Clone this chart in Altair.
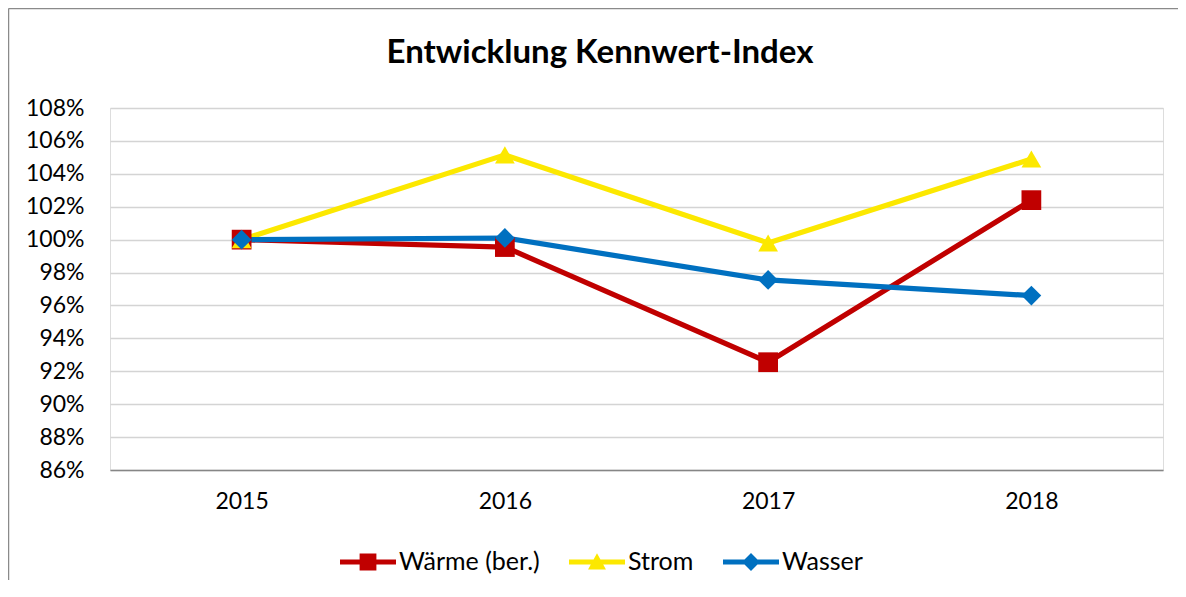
import altair as alt
import pandas as pd

years = ["2015", "2016", "2017", "2018"]
series_names = ["Wärme (ber.)", "Strom", "Wasser"]
waerme = [1.000, 0.9955, 0.9255, 1.024]
strom = [1.000, 1.0515, 0.998, 1.049]
wasser = [1.000, 1.001, 0.9755, 0.966]
y_ticks = [0.86, 0.88, 0.90, 0.92, 0.94, 0.96, 0.98, 1.00, 1.02, 1.04, 1.06, 1.08]
title_text = "Entwicklung Kennwert-Index"

colors = ["#C00000", "#FCE800", "#0070C0"]
point_shapes = ["square", "triangle-up", "diamond"]
legend_shapes = [
    "M-1,-0.09H1V0.09H-1Z M-0.3,-0.3H0.3V0.3H-0.3Z",
    "M-1,-0.09H1V0.09H-1Z M0,-0.31L0.32,0.27L-0.32,0.27Z",
    "M-1,-0.09H1V0.09H-1Z M0,-0.32L0.32,0L0,0.32L-0.32,0Z",
]

rows = []
for name, vals in zip(series_names, [waerme, strom, wasser]):
    for order, (yr, v) in enumerate(zip(years, vals)):
        rows.append({"Jahr": yr, "Serie": name, "Wert": v, "o": order})
df = pd.DataFrame(rows)

FONT = "Lato"

x_enc = alt.X(
    "Jahr:O",
    scale=alt.Scale(type="point", padding=0.5),
    sort=years,
    axis=alt.Axis(
        title=None, labelAngle=0, ticks=False, tickSize=0, grid=False,
        domainColor="#868686", domainWidth=1.5,
        labelFont=FONT, labelFontSize=23, labelColor="#000000", labelPadding=20,
    ),
)
y_enc = alt.Y(
    "Wert:Q",
    scale=alt.Scale(domain=[0.86, 1.08], nice=False, zero=False),
    axis=alt.Axis(
        title=None, values=y_ticks, format=".0%", domain=False, ticks=False, tickSize=0,
        gridColor="#D4D4D4", gridWidth=1.4,
        labelFont=FONT, labelFontSize=23, labelColor="#000000", labelPadding=26,
    ),
)

color_scale = alt.Scale(domain=series_names, range=colors)

lines = alt.Chart(df).mark_line(strokeWidth=5.2, strokeJoin="round", strokeCap="round").encode(
    x=x_enc, y=y_enc,
    color=alt.Color("Serie:N", scale=color_scale, legend=None),
    order="o:Q",
)

points = alt.Chart(df).mark_point(filled=True, opacity=1, size=390, strokeWidth=0).encode(
    x=x_enc, y=y_enc,
    color=alt.Color("Serie:N", scale=color_scale, legend=None),
    shape=alt.Shape("Serie:N", scale=alt.Scale(domain=series_names, range=point_shapes), legend=None),
)

legend_layer = alt.Chart(df).transform_filter("false").mark_point(filled=True, opacity=1, strokeWidth=0).encode(
    x=x_enc, y=y_enc,
    color=alt.Color(
        "Serie:N", scale=color_scale,
        legend=alt.Legend(
            title=None, orient="none", legendX=230, legendY=426, direction="horizontal",
            symbolSize=3136, symbolOpacity=1, symbolStrokeWidth=0,
            labelFont=FONT, labelFontSize=25, labelColor="#000000", labelOffset=3,
            columnPadding=29,
        ),
    ),
    shape=alt.Shape("Serie:N", scale=alt.Scale(domain=series_names, range=legend_shapes)),
)

frame_data = alt.Data(values=[{"k": 1}])
frame_left = alt.Chart(frame_data).mark_rule(color="#8A8A8A", strokeWidth=1.5).encode(
    x=alt.value(-101.5), y=alt.value(-99.5), y2=alt.value(700)
)
frame_top = alt.Chart(frame_data).mark_rule(color="#8A8A8A", strokeWidth=1.5).encode(
    x=alt.value(-101.5), x2=alt.value(1300), y=alt.value(-99.5)
)
title_layer = alt.Chart(alt.Data(values=[{"t": title_text}])).mark_text(
    font=FONT, fontSize=33, fontWeight="bold", color="#000000",
    align="center", baseline="alphabetic",
).encode(text="t:N", x=alt.value(490), y=alt.value(-45))

chart = (
    alt.layer(frame_left, frame_top, lines, points, legend_layer, title_layer)
    .resolve_scale(color="independent", shape="independent")
    .properties(
        width=1053, height=362,
        autosize=alt.AutoSizeParams(type="none"),
        padding={"left": 102, "top": 100, "right": 15, "bottom": 110},
    )
    .configure_view(stroke=None)
    .configure(background="#FFFFFF")
)

chart.save("out.html", embed_options={"renderer": "svg", "actions": False})
